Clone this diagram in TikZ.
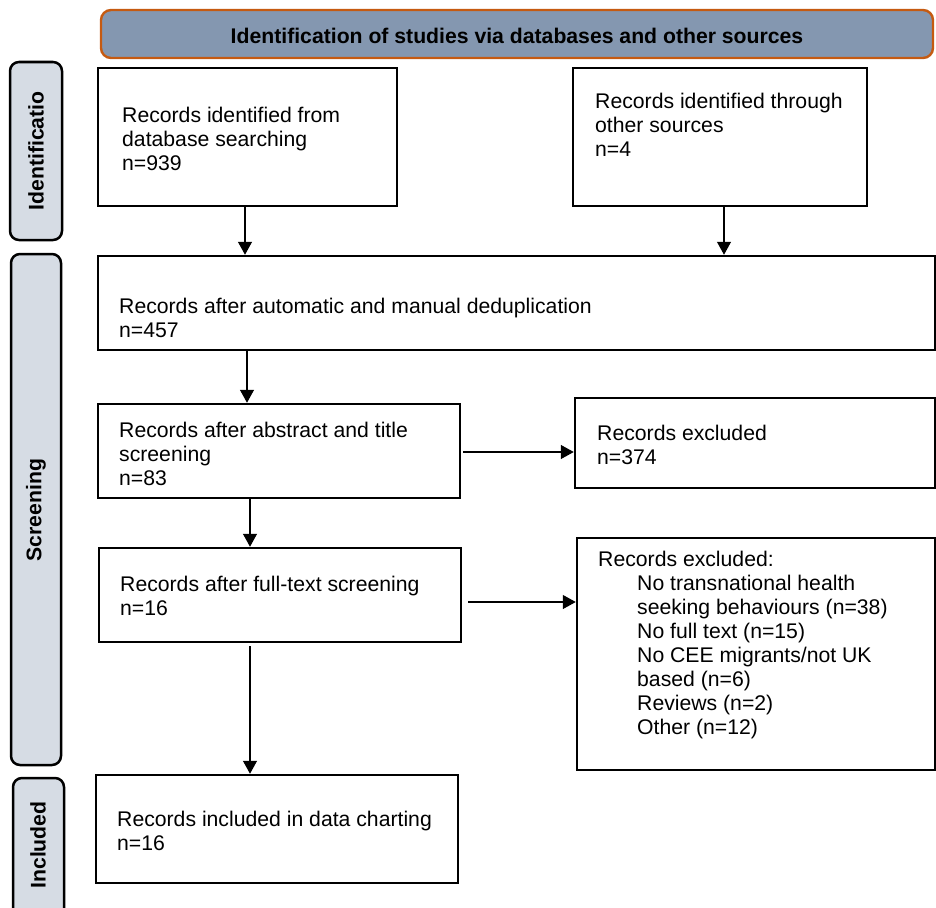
\documentclass[tikz,border=0pt]{standalone}
\usepackage{fontspec}
\setmainfont{Liberation Sans}
\usetikzlibrary{arrows.meta,fit}
\definecolor{hdrfill}{HTML}{8497B0}
\definecolor{hdrline}{HTML}{C55A11}
\definecolor{sidefill}{HTML}{D6DCE4}
\begin{document}
\begin{tikzpicture}[x=1pt,y=-1pt,
  box/.style={draw=black, line width=2.5pt, inner sep=0pt, fill=white},
  sidebox/.style={draw=black, line width=2.5pt, inner sep=0pt, fill=sidefill, rounded corners=9pt},
  hdrbox/.style={draw=hdrline, line width=2.4pt, inner sep=0pt, fill=hdrfill, rounded corners=10pt},
  txt/.style={anchor=west, inner sep=0pt, align=left, font=\fontsize{21.2}{24}\selectfont},
  sidelab/.style={rotate=90, inner sep=0pt, font=\fontsize{21.2}{24}\selectfont\bfseries},
  arr/.style={draw=black, line width=1.3pt, -{Triangle[length=13pt,width=14pt]}}]
\useasboundingbox (0,0) rectangle (936,907);

% header
\node[hdrbox, fit={(101,10) (933,58)}] (hdr) {};
\node[inner sep=0pt, font=\fontsize{21.2}{24}\selectfont\bfseries] (hdrt) at (517,36) {Identification of studies via databases and other sources};

% side labels
\node[sidebox, fit={(10,62) (62,240)}] (sid) {};
\node[sidelab] (sidt) at (36,151) {Identificatio};
\node[sidebox, fit={(11,254) (61,765)}] (sscr) {};
\node[sidelab] (sscrt) at (36,510) {Screening};
\node[sidebox, fit={(13,778) (64,940)}] (sinc) {};
\node[sidelab] (sinct) at (38,845) {Included};

% boxes
\node[box, fit={(98,68) (397,206)}] (b1) {};
\node[txt] (t1) at (122,139) {Records identified from\\database searching\\n=939};
\node[box, fit={(573,68) (867,206)}] (b2) {};
\node[txt] (t2) at (595,125) {Records identified through\\other sources\\n=4};
\node[box, fit={(98,256) (934.8,350)}] (dd) {};
\node[txt] (tdd) at (119,317.5) {Records after automatic and manual deduplication\\n=457};
\node[box, fit={(98,404) (460,498)}] (ab) {};
\node[txt] (tab) at (119,453.5) {Records after abstract and title\\screening\\n=83};
\node[box, fit={(575,398) (934.8,488)}] (ex1) {};
\node[txt] (tex1) at (597,444.5) {Records excluded\\n=374};
\node[box, fit={(99,548) (461,642)}] (ft) {};
\node[txt] (tft) at (120,595.5) {Records after full-text screening\\n=16};
\node[box, fit={(577,538) (934.8,770)}] (ex2) {};
\node[txt] (tex2) at (598,645.5) {Records excluded:\\
\hspace*{39pt}No transnational health\\
\hspace*{39pt}seeking behaviours (n=38)\\
\hspace*{39pt}No full text (n=15)\\
\hspace*{39pt}No CEE migrants/not UK\\
\hspace*{39pt}based (n=6)\\
\hspace*{39pt}Reviews (n=2)\\
\hspace*{39pt}Other (n=12)};
\node[box, fit={(96,775) (458,883)}] (inc) {};
\node[txt] (tinc) at (117,830.5) {Records included in data charting\\n=16};

% connectors
\draw[arr] (b1.south -| 245,0) -- (dd.north -| 245,0);
\draw[arr] (b2.south -| 724,0) -- (dd.north -| 724,0);
\draw[arr] (dd.south -| 247,0) -- (ab.north -| 247,0);
\draw[arr] ([xshift=2pt]ab.east |- 0,452) -- (ex1.west |- 0,452);
\draw[arr] (ab.south -| 250,0) -- (ft.north -| 250,0);
\draw[arr] ([xshift=6pt]ft.east |- 0,602) -- (ex2.west |- 0,602);
\draw[arr] ([yshift=-3pt]ft.south -| 250,0) -- (inc.north -| 250,0);
\end{tikzpicture}
\end{document}
